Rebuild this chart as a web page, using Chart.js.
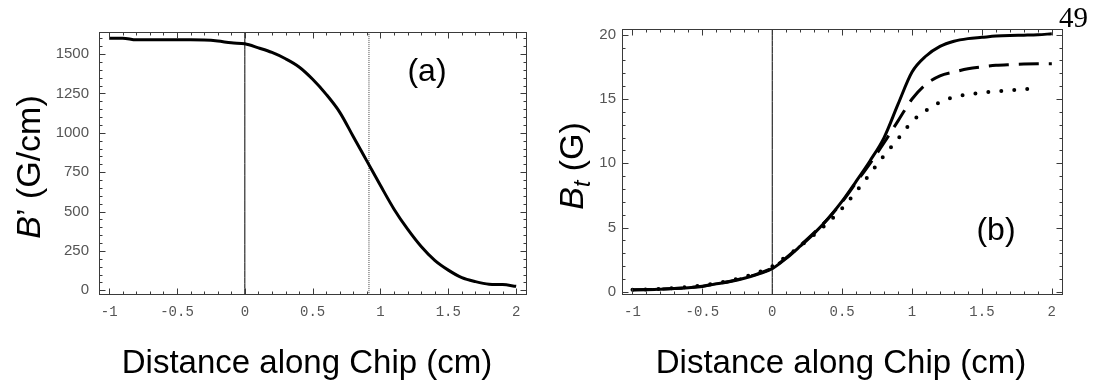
<!DOCTYPE html>
<html>
<head>
<meta charset="utf-8">
<script src="https://cdn.jsdelivr.net/npm/chart.js@4.4.1/dist/chart.umd.min.js"></script>
<style>
  html, body { margin: 0; padding: 0; background: #fff; }
  body { width: 1101px; height: 388px; position: relative; overflow: hidden; }
  canvas { position: absolute; top: 0; }
  #gradChart { left: 0; }
  #fieldChart { left: 545px; }
</style>
</head>
<body>
<canvas id="gradChart" width="545" height="388"></canvas>
<canvas id="fieldChart" width="556" height="388"></canvas>
<script>
// distance along chip (cm), sampled every 0.1
const distance = [-1, -0.9, -0.8, -0.7, -0.6, -0.5, -0.4, -0.3, -0.2, -0.1,
  0, 0.1, 0.2, 0.3, 0.4, 0.5, 0.6, 0.7, 0.8, 0.9,
  1, 1.1, 1.2, 1.3, 1.4, 1.5, 1.6, 1.7, 1.8, 1.9, 2];

// (a) gradient B' in G/cm
const gradient = [1601, 1601, 1590, 1590, 1590, 1590, 1590, 1589, 1583, 1571,
  1565, 1539, 1510, 1470, 1418, 1340, 1244, 1130, 975, 820,
  665, 515, 388, 278, 190, 128, 80, 55, 39, 36, 25];

// (b) transverse field Bt in G, three cases
const fieldSolid = [0.15, 0.16, 0.2, 0.25, 0.32, 0.42, 0.62, 0.8, 1.05, 1.38,
  1.8, 2.6, 3.55, 4.55, 5.7, 7.05, 8.6, 10.2, 12.0, 14.6,
  17.1, 18.35, 19.1, 19.5, 19.7, 19.8, 19.9, 19.95, 19.97, 20.0, 20.08];
const fieldDashed = [0.14, 0.17, 0.21, 0.26, 0.33, 0.44, 0.63, 0.82, 1.08, 1.42,
  1.86, 2.65, 3.6, 4.6, 5.7, 7.0, 8.5, 10.0, 11.6, 13.3,
  15.0, 16.15, 16.8, 17.1, 17.35, 17.5, 17.62, 17.68, 17.72, 17.74, 17.75];
const fieldDotted = [0.16, 0.19, 0.23, 0.29, 0.37, 0.49, 0.66, 0.88, 1.15, 1.52,
  1.98, 2.75, 3.55, 4.45, 5.4, 6.5, 7.8, 9.2, 10.6, 11.9,
  13.25, 14.1, 14.75, 15.15, 15.35, 15.5, 15.6, 15.68, 15.75, 15.88];

const chipEdge = 0;
const gradCutoff = 0.915;

const xTickLabels = [-1, -0.5, 0, 0.5, 1, 1.5, 2];
const gradTickLabels = [0, 250, 500, 750, 1000, 1250, 1500];
const fieldTickLabels = [0, 5, 10, 15, 20];

const X_MIN = -1.075, X_MAX = 2.08;
const SANS = '"Liberation Sans", Arial, sans-serif';

const pts = (ys) => ys.map((y, i) => ({ x: distance[i], y }));
const vline = (x, lo, hi) => [{ x, y: lo }, { x, y: hi }];

// inward ticks on all four sides + box, titles, panel tag
const framePlugin = {
  id: 'frame',
  afterDraw(chart, args, o) {
    const { ctx, chartArea: a, scales: { x, y } } = chart;
    ctx.save();
    ctx.strokeStyle = '#3a3a3a';
    ctx.lineWidth = 1;
    const L = Math.round(a.left) + 0.5, R = Math.round(a.right) - 0.5;
    const T = Math.round(a.top) + 0.5, B = Math.round(a.bottom) - 0.5;
    ctx.strokeRect(L, T, R - L, B - T);
    ctx.beginPath();
    for (let i = -10; i <= 20; i++) {
      const px = Math.round(x.getPixelForValue(i / 10)) + 0.5;
      const len = i % 5 === 0 ? 6 : 3;
      ctx.moveTo(px, B); ctx.lineTo(px, B - len);
      ctx.moveTo(px, T); ctx.lineTo(px, T + len);
    }
    for (let v = 0; v <= o.yTop; v += o.yMinor) {
      const py = Math.round(y.getPixelForValue(v)) + 0.5;
      const len = Math.abs(v % o.yMajor) < 1e-9 ? 6 : 3;
      ctx.moveTo(L, py); ctx.lineTo(L + len, py);
      ctx.moveTo(R, py); ctx.lineTo(R - len, py);
    }
    ctx.stroke();

    ctx.fillStyle = '#000';
    // x title
    ctx.font = '33px ' + SANS;
    ctx.textAlign = 'center';
    ctx.textBaseline = 'alphabetic';
    ctx.fillText('Distance along Chip (cm)', o.xTitleX, 372.5);

    // panel tag
    ctx.font = '32px ' + SANS;
    ctx.fillText(o.tag, o.tagX, o.tagY);

    // rotated y title
    ctx.save();
    ctx.translate(o.yTitleX, o.yTitleY);
    ctx.rotate(-Math.PI / 2);
    ctx.textAlign = 'left';
    let w = 0;
    o.yTitle.forEach(p => { ctx.font = p.font; w += ctx.measureText(p.t).width; });
    let u = -w / 2;
    o.yTitle.forEach(p => {
      ctx.font = p.font;
      ctx.fillText(p.t, u, p.dy || 0);
      u += ctx.measureText(p.t).width;
    });
    ctx.restore();

    if (o.page) {
      ctx.font = '29px "Liberation Serif", "DejaVu Serif", serif';
      ctx.textAlign = 'right';
      ctx.fillText(o.page, o.pageX, 26.5);
    }
    ctx.restore();
  }
};

function xScale() {
  return {
    type: 'linear', min: X_MIN, max: X_MAX,
    grid: { display: false, drawTicks: false }, border: { display: false },
    afterBuildTicks: s => { s.ticks = xTickLabels.map(v => ({ value: v })); },
    afterFit: s => { s.height = 93; },
    ticks: {
      padding: 9, color: '#555', maxRotation: 0,
      font: { family: '"Liberation Mono", "DejaVu Sans Mono", monospace', size: 14 },
      callback: v => String(v)
    }
  };
}

function yScale(min, max, labels, width, pad) {
  return {
    type: 'linear', min, max,
    grid: { display: false, drawTicks: false }, border: { display: false },
    afterBuildTicks: s => { s.ticks = labels.map(v => ({ value: v })); },
    afterFit: s => { s.width = width; },
    ticks: {
      padding: pad, color: '#555', font: { family: SANS, size: 15 },
      callback: v => String(v)
    }
  };
}

const curve = (data, extra) => Object.assign({
  data, borderColor: '#000', borderWidth: 3, pointRadius: 0,
  cubicInterpolationMode: 'monotone', fill: false
}, extra);

const GRAD_MIN = -30, GRAD_MAX = 1640;
new Chart(document.getElementById('gradChart'), {
  type: 'line',
  data: {
    datasets: [
      curve(pts(gradient), { order: 0 }),
      curve(vline(chipEdge, GRAD_MIN, GRAD_MAX), { borderWidth: 1, order: 1 }),
      curve(vline(gradCutoff, GRAD_MIN, GRAD_MAX), { borderWidth: 1, borderColor: '#444', borderDash: [1, 1], order: 1 })
    ]
  },
  options: {
    responsive: false, animation: false,
    layout: { padding: { left: 0, right: 18, top: 32, bottom: 0 } },
    plugins: {
      legend: { display: false }, tooltip: { enabled: false },
      frame: {
        yTop: 1600, yMinor: 50, yMajor: 250,
        xTitleX: 307, tag: '(a)', tagX: 427, tagY: 81,
        yTitleX: 40, yTitleY: 167,
        yTitle: [
          { t: 'B', font: 'italic 34px ' + SANS },
          { t: '\u2019 (G/cm)', font: '34px ' + SANS }
        ]
      }
    },
    scales: { x: xScale(), y: yScale(GRAD_MIN, GRAD_MAX, gradTickLabels, 99, 10) }
  },
  plugins: [framePlugin]
});

const FIELD_MIN = -0.25, FIELD_MAX = 20.45;
new Chart(document.getElementById('fieldChart'), {
  type: 'line',
  data: {
    datasets: [
      curve(pts(fieldSolid), { order: 0 }),
      curve(pts(fieldDashed), { borderDash: [20, 10], order: 0 }),
      curve(pts(fieldDotted), { borderWidth: 4, borderDash: [0, 13], borderCapStyle: 'round', order: 0 }),
      curve(vline(chipEdge, FIELD_MIN, FIELD_MAX), { borderWidth: 1, order: 1 })
    ]
  },
  options: {
    responsive: false, animation: false,
    layout: { padding: { left: 0, right: 38, top: 29, bottom: 0 } },
    plugins: {
      legend: { display: false }, tooltip: { enabled: false },
      frame: {
        yTop: 20, yMinor: 1, yMajor: 5,
        xTitleX: 296, tag: '(b)', tagX: 451, tagY: 240,
        yTitleX: 38, yTitleY: 166,
        yTitle: [
          { t: 'B', font: 'italic 34px ' + SANS },
          { t: 't', font: 'italic 23px ' + SANS, dy: 7 },
          { t: ' (G)', font: '34px ' + SANS }
        ],
        page: '49', pageX: 543
      }
    },
    scales: { x: xScale(), y: yScale(FIELD_MIN, FIELD_MAX, fieldTickLabels, 77, 6) }
  },
  plugins: [framePlugin]
});
</script>
</body>
</html>
